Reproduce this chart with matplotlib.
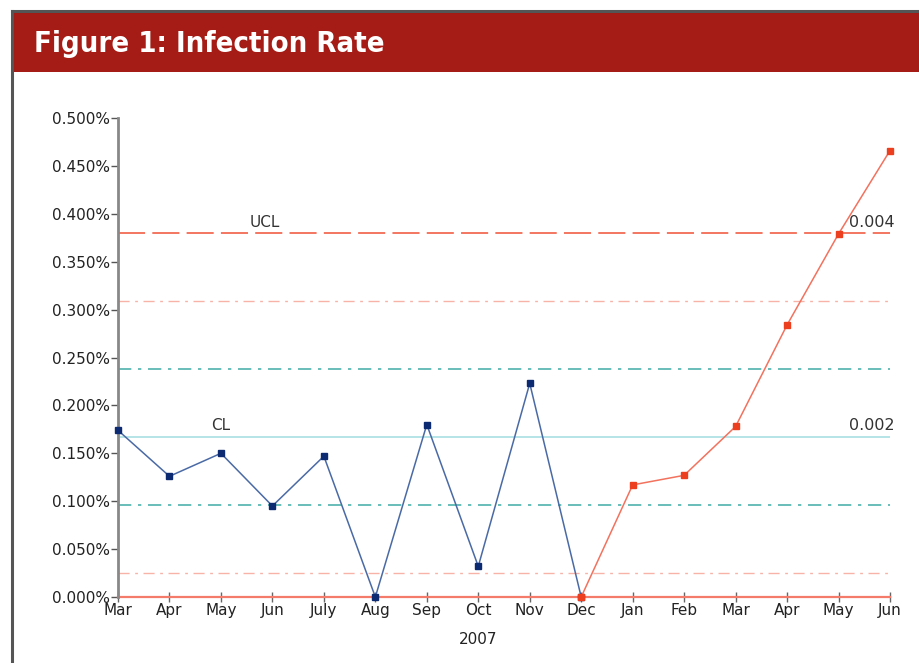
import matplotlib.pyplot as plt
from matplotlib.patches import Rectangle
from matplotlib.lines import Line2D

months = ["Mar", "Apr", "May", "Jun", "July", "Aug", "Sep", "Oct",
          "Nov", "Dec", "Jan", "Feb", "Mar", "Apr", "May", "Jun"]
# infection rate in percent
rate_2007 = [0.174, 0.126, 0.150, 0.095, 0.147, 0.0, 0.180, 0.032, 0.223, 0.0]
rate_2008 = [0.0, 0.117, 0.127, 0.178, 0.284, 0.379, 0.466]

ucl = 0.3795
cl = 0.1668
lcl = 0.0
zone_red = [0.3088, 0.0247]
zone_teal = [0.2378, 0.0958]

fig = plt.figure(figsize=(9.19, 6.63), dpi=100)

# header band and frame
fig.patches.append(Rectangle((13 / 919, 1 - 72 / 663), 1, 60 / 663, transform=fig.transFigure,
                             facecolor="#a51b15", edgecolor="none", zorder=0))
fig.lines.append(Line2D([12 / 919, 12 / 919], [0, 1 - 11 / 663], transform=fig.transFigure,
                        color="#555555", lw=2.2))
fig.lines.append(Line2D([12 / 919, 1], [1 - 11 / 663, 1 - 11 / 663], transform=fig.transFigure,
                        color="#555555", lw=2.2))
fig.text(34 / 919, 1 - 44 / 663, "Figure 1: Infection Rate", color="white", fontsize=21,
         fontweight="bold", fontstretch="condensed", va="center", ha="left",
         family=["DejaVu Sans"])

ax = fig.add_axes([118 / 919, 1 - 597 / 663, (890 - 118) / 919, (597 - 118) / 663])
x1 = list(range(len(rate_2007)))
x2 = list(range(len(rate_2007) - 1, len(months)))

xr = [0, len(months) - 1]
ax.plot(xr, [ucl, ucl], color="#f26b55", lw=1.3, dashes=(15, 4), zorder=2)
for v in zone_red:
    ax.plot(xr, [v, v], color="#f7b3a8", lw=1.0, dashes=(8, 4, 2, 4), zorder=2)
for v in zone_teal:
    ax.plot(xr, [v, v], color="#4fb1ad", lw=1.2, dashes=(8, 4, 2, 4), zorder=2)
ax.plot(xr, [cl, cl], color="#a9dfe3", lw=1.2, zorder=2)
ax.plot(xr, [lcl, lcl], color="#f47a6a", lw=1.6, zorder=2, clip_on=False)

ax.plot(x1, rate_2007, color="#4a6aa5", lw=1.1, marker="s", ms=5,
        mfc="#0b2a72", mec="#0b2a72", zorder=4, clip_on=False)
ax.plot(x2, rate_2008, color="#f2725e", lw=1.1, marker="s", ms=5,
        mfc="#ec3f1f", mec="#ec3f1f", zorder=5, clip_on=False)

ax.text(2.55, ucl + 0.004, "UCL", fontsize=11, color="#333333", va="bottom")
ax.text(1.8, cl + 0.004, "CL", fontsize=11, color="#333333", va="bottom")
ax.text(14.2, ucl + 0.004, "0.004", fontsize=11.5, color="#333333", va="bottom")
ax.text(14.2, cl + 0.004, "0.002", fontsize=11.5, color="#333333", va="bottom")

ax.set_xlim(0, len(months) - 1)
ax.set_ylim(0, 0.5)
ax.set_yticks([i * 0.05 for i in range(11)])
ax.set_yticklabels([f"{i * 0.05:.3f}%" for i in range(11)])
ax.set_xticks(range(len(months)))
ax.set_xticklabels(months)
ax.text(7, -0.037, "2007", fontsize=11, ha="center", va="top", color="#222222")

for s in ["top", "right"]:
    ax.spines[s].set_visible(False)
ax.spines["bottom"].set_visible(False)
ax.spines["left"].set_color("#888888")
ax.spines["left"].set_linewidth(2)
ax.tick_params(axis="y", length=5, width=1, color="#555555", labelsize=11,
               labelcolor="#222222", pad=1)
ax.tick_params(axis="x", direction="inout", length=7, width=1, color="#666666",
               labelsize=11, labelcolor="#222222", pad=1)

plt.savefig("out.png", dpi=100)
